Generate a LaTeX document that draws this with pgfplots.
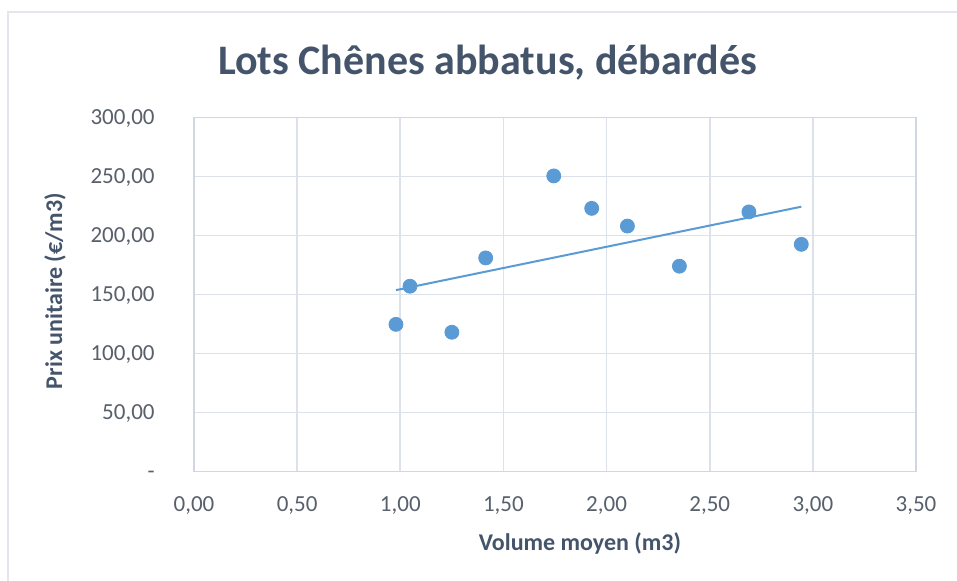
\documentclass[border=0pt]{standalone}
\usepackage{fontspec}
\setmainfont{Carlito}
\usepackage{pgfplots}
\pgfplotsset{compat=1.18}
\definecolor{titlec}{HTML}{44546A}
\definecolor{tickc}{HTML}{58606C}
\definecolor{gridc}{HTML}{DDE2EA}
\definecolor{axc}{HTML}{D0D7E2}
\definecolor{ptc}{HTML}{5B9BD5}
\definecolor{bordc}{HTML}{E3E6EB}
\begin{document}
\begin{tikzpicture}
\useasboundingbox (0,0) rectangle (478.5pt,-290.5pt);
\fill[white] (0,0) rectangle (478.5pt,-290.5pt);
\draw[bordc, line width=0.8pt] (3.9pt,-300pt) -- (3.9pt,-5.9pt) -- (490pt,-5.9pt);
\begin{axis}[
  at={(97pt,-235.75pt)}, anchor=south west,
  scale only axis, width=361pt, height=177pt,
  xmin=0, xmax=3.5, ymin=0, ymax=300,
  xtick={0,0.5,1,1.5,2,2.5,3,3.5},
  xticklabels={{0,00},{0,50},{1,00},{1,50},{2,00},{2,50},{3,00},{3,50}},
  ytick={0,50,100,150,200,250,300},
  yticklabels={{-\hspace{5pt}},{50,00},{100,00},{150,00},{200,00},{250,00},{300,00}},
  major tick length=0pt,
  grid=major,
  grid style={gridc, line width=0.8pt},
  axis line style={axc, line width=0.8pt},
  xticklabel style={font=\fontsize{11.5}{13}\selectfont, text=tickc, anchor=base, inner sep=0pt, yshift=-19.9pt},
  yticklabel style={font=\fontsize{11.5}{13}\selectfont, text=tickc, anchor=base east, inner sep=0pt, xshift=-19.5pt, yshift=-3.65pt},
  clip=false,
]
\addplot[ptc, line width=1pt, no markers] coordinates {(0.979,153.7) (2.944,224.4)};
\addplot[only marks, mark=*, mark size=3.5pt, mark options={fill=ptc, draw=ptc}] coordinates {
(0.979,124.7) (1.047,157) (1.25,118) (1.414,181) (1.744,250.5)
(1.928,223) (2.101,208) (2.353,174) (2.69,220) (2.944,192.5)};
\end{axis}
\node[anchor=base, text=titlec, font=\fontsize{21}{25}\selectfont\bfseries, inner sep=0pt] at (243.75pt,-37.5pt) {Lots Chênes abbatus, débardés};
\node[anchor=base, text=titlec, font=\fontsize{12}{14}\selectfont\bfseries, inner sep=0pt] at (290pt,-275.4pt) {Volume moyen (m3)};
\node[rotate=90, anchor=center, text=titlec, font=\fontsize{12}{14}\selectfont\bfseries, inner sep=0pt] at (27.5pt,-145.5pt) {Prix unitaire (€/m3)};
\end{tikzpicture}
\end{document}
